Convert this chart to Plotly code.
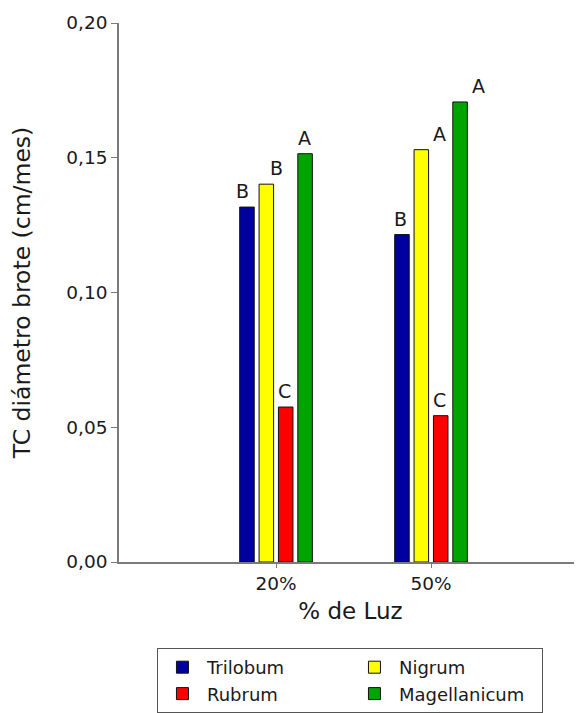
import plotly.graph_objects as go

# ---- data ----
light_levels = ["20%", "50%"]
species = ["Trilobum", "Nigrum", "Rubrum", "Magellanicum"]
trilobum = [0.1317, 0.1215]
nigrum = [0.1402, 0.1530]
rubrum = [0.0575, 0.0543]
magellanicum = [0.1515, 0.1707]
letters_trilobum = ["B", "B"]
letters_nigrum = ["B", "A"]
letters_rubrum = ["C", "C"]
letters_magellanicum = ["A", "A"]
y_ticks = [0.0, 0.05, 0.10, 0.15, 0.20]

# ---- style ----
FONT = "DejaVu Sans"
TEXT_COLOR = "#1a1a1a"
AXIS_COLOR = "#7a7a7a"
colors = ["#0000A0", "#FFFF00", "#FF0000", "#00A400"]
BARGAP = 0.50
BARGROUPGAP = 0.25
# small pixel nudges of the significance letters (per level, per species)
letter_xshift = [[-4, 10, -1, -1], [-1, 18, -1, 18]]

series = [trilobum, nigrum, rubrum, magellanicum]
letters = [letters_trilobum, letters_nigrum, letters_rubrum, letters_magellanicum]
xpos = list(range(len(light_levels)))

fig = go.Figure()
for name, vals, col in zip(species, series, colors):
    fig.add_trace(go.Bar(
        name=name, x=xpos, y=vals,
        marker=dict(color=col, line=dict(color="#111111", width=1)),
    ))

n = len(species)
slot = (1 - BARGAP) / n
annotations = []
for j, (vals, labs) in enumerate(zip(series, letters)):
    for i, (v, lab) in enumerate(zip(vals, labs)):
        annotations.append(dict(
            x=xpos[i] + (j - (n - 1) / 2) * slot, y=v, xref="x", yref="y",
            text=lab, showarrow=False, yanchor="bottom", yshift=3,
            xshift=letter_xshift[i][j],
            font=dict(family=FONT, size=19, color=TEXT_COLOR),
        ))

# the page body adds an 8 px margin, so the figure is 8 px smaller each way
fig.update_layout(
    width=574, height=705, autosize=False,
    margin=dict(l=111, r=0, t=15, b=151, pad=0),
    plot_bgcolor="white", paper_bgcolor="white",
    barmode="group", bargap=BARGAP, bargroupgap=BARGROUPGAP,
    separators=",.",
    font=dict(family=FONT, size=18.5, color=TEXT_COLOR),
    annotations=annotations,
    legend=dict(
        orientation="h", x=0.082, xanchor="left", y=-0.16, yanchor="top",
        entrywidth=138, entrywidthmode="pixels", itemwidth=39,
        bordercolor="#555555", borderwidth=1,
        font=dict(family=FONT, size=18, color=TEXT_COLOR),
        traceorder="normal",
    ),
    xaxis=dict(
        range=[-1.013, 1.974], tickvals=xpos, ticktext=light_levels,
        ticks="outside", ticklen=4, tickcolor=AXIS_COLOR,
        showline=True, linecolor=AXIS_COLOR, linewidth=1.5,
        showgrid=False, zeroline=False,
        title=dict(text="% de Luz", font=dict(size=23), standoff=10),
    ),
    yaxis=dict(
        range=[0, 0.2], tickvals=y_ticks, tickformat=".2f",
        ticks="outside", ticklen=6, tickcolor=AXIS_COLOR,
        showline=True, linecolor=AXIS_COLOR, linewidth=1.5,
        showgrid=False, zeroline=False,
        title=dict(text="TC diámetro brote (cm/mes)", font=dict(size=23.5), standoff=29),
    ),
)

fig.write_html("out.html")
